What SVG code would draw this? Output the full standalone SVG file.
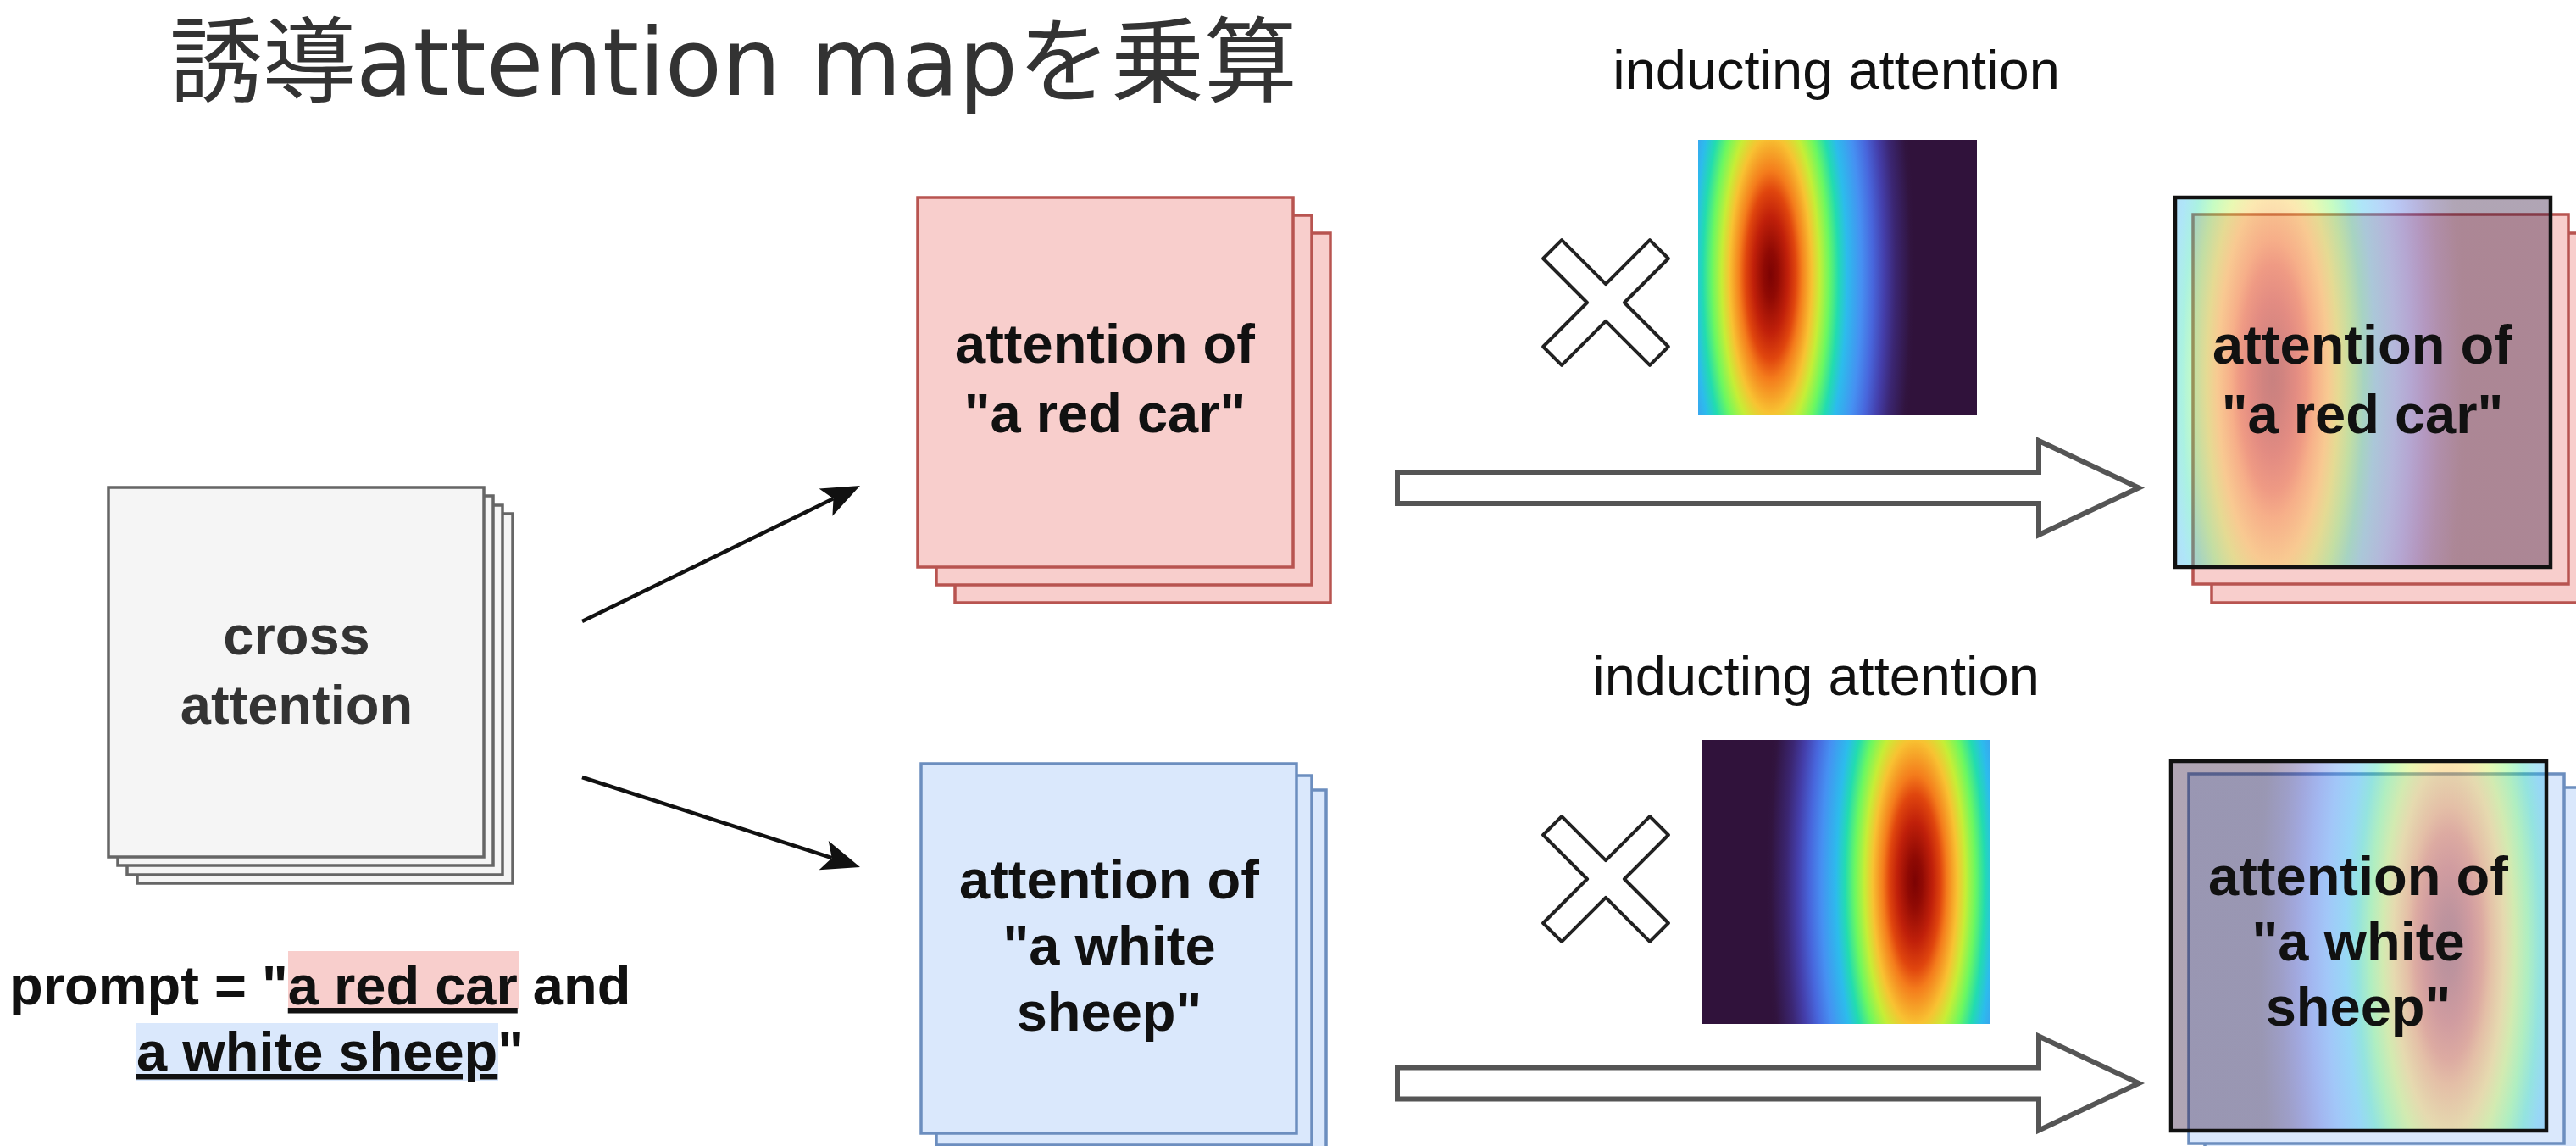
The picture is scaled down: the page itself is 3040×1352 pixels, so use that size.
<svg xmlns="http://www.w3.org/2000/svg" width="3040" height="1352" viewBox="0 0 3040 1352">
  <defs>
    <style>
      .lbl{font-family:"Liberation Sans",Arial,sans-serif;font-weight:bold;font-size:65px;text-anchor:middle;fill:#111}
      .lbl.gray{fill:#333}
      .cap{font-family:"Liberation Sans",Arial,sans-serif;font-size:65px;text-anchor:middle;fill:#111}
      .prompt{font-family:"Liberation Sans",Arial,sans-serif;font-weight:bold;font-size:65px;fill:#111}
      .sheet-gray{fill:#f5f5f5;stroke:#666;stroke-width:3.5}
      .sheet-red{fill:#f8cecc;stroke:#b85450;stroke-width:3.5}
      .sheet-blue{fill:#dae8fc;stroke:#6c8ebf;stroke-width:3.5}
      .frame{fill:none;stroke:#111;stroke-width:4.5}
      .times{fill:#fff;stroke:#222;stroke-width:4;stroke-linejoin:round}
      .flow{fill:#fff;stroke:#555;stroke-width:6;stroke-linejoin:miter}
      .link{stroke:#111;stroke-width:4.5;fill:none;marker-end:url(#head)}
    </style>
    <!-- turbo-style attention map, peak on the left -->
    <radialGradient id="heatL" cx="0.26" cy="0.49" r="0.517" gradientTransform="translate(0.26 0.49) scale(1 3.4) translate(-0.26 -0.49)">
      <stop offset="0" stop-color="#7c0303"/>
      <stop offset="0.05" stop-color="#900a04"/>
      <stop offset="0.12" stop-color="#c0200a"/>
      <stop offset="0.175" stop-color="#e0460e"/>
      <stop offset="0.215" stop-color="#f47c1c"/>
      <stop offset="0.285" stop-color="#f8c232"/>
      <stop offset="0.34" stop-color="#c6ee36"/>
      <stop offset="0.405" stop-color="#6cf860"/>
      <stop offset="0.47" stop-color="#22dcb0"/>
      <stop offset="0.53" stop-color="#2cbcec"/>
      <stop offset="0.63" stop-color="#4690f2"/>
      <stop offset="0.71" stop-color="#4866dc"/>
      <stop offset="0.79" stop-color="#443eaa"/>
      <stop offset="0.865" stop-color="#3b2672"/>
      <stop offset="0.97" stop-color="#31143f"/>
      <stop offset="1" stop-color="#30123b"/>
    </radialGradient>
    <!-- same map, peak on the right -->
    <radialGradient id="heatR" href="#heatL" cx="0.74" cy="0.5" r="0.517" gradientTransform="translate(0.74 0.5) scale(1 3.4) translate(-0.74 -0.5)"/>
    <marker id="head" markerUnits="userSpaceOnUse" markerWidth="46" markerHeight="36" refX="10" refY="18" orient="auto" overflow="visible">
      <path d="M0,0 L45,18 L0,36 L10,18 Z" fill="#111"/>
    </marker>
    <!-- hollow multiplication sign -->
    <polygon id="cross" points="-15.5,-89 15.5,-89 15.5,-15.5 89,-15.5 89,15.5 15.5,15.5 15.5,89 -15.5,89 -15.5,15.5 -89,15.5 -89,-15.5 -15.5,-15.5" transform="rotate(45)"/>
  </defs>

  <rect width="3040" height="1352" fill="#fff"/>

  <g id="title">
    <text x="200" y="112" font-family="'DejaVu Sans','Noto Sans CJK JP',sans-serif" font-size="110" fill="#333">誘導attention mapを乗算</text>
  </g>

  <g id="node-cross-attention">
    <rect class="sheet-gray" x="162" y="606" width="443" height="436"/>
    <rect class="sheet-gray" x="150" y="596" width="443" height="436"/>
    <rect class="sheet-gray" x="139" y="585" width="443" height="436"/>
    <rect class="sheet-gray" x="128" y="575" width="443" height="436"/>
    <text class="lbl gray" x="350" y="772">cross</text>
    <text class="lbl gray" x="350" y="854">attention</text>
  </g>

  <g id="node-prompt">
    <rect x="340" y="1122" width="273" height="68" fill="#f8cecc"/>
    <rect x="161" y="1207" width="427" height="68" fill="#dae8fc"/>
    <text class="prompt" x="11" y="1185">prompt = "<tspan text-decoration="underline">a red car</tspan> and</text>
    <text class="prompt" x="161" y="1263"><tspan text-decoration="underline">a white sheep</tspan>"</text>
  </g>

  <g id="node-red-car">
    <rect class="sheet-red" x="1127" y="275" width="443" height="436"/>
    <rect class="sheet-red" x="1105" y="254" width="443" height="436"/>
    <rect class="sheet-red" x="1083" y="233" width="443" height="436"/>
    <text class="lbl" x="1304" y="428">attention of</text>
    <text class="lbl" x="1304" y="510">"a red car"</text>
  </g>

  <g id="node-white-sheep">
    <rect class="sheet-blue" x="1122" y="932" width="443" height="436"/>
    <rect class="sheet-blue" x="1105" y="915" width="443" height="436"/>
    <rect class="sheet-blue" x="1087" y="901" width="443" height="436"/>
    <text class="lbl" x="1309" y="1060">attention of</text>
    <text class="lbl" x="1309" y="1138">"a white</text>
    <text class="lbl" x="1309" y="1216">sheep"</text>
  </g>

  <g id="label-inducting-top">
    <text class="cap" x="2167" y="105">inducting attention</text>
  </g>
  <g id="node-map-car">
    <rect x="2004" y="165" width="329" height="325" fill="url(#heatL)"/>
  </g>
  <g id="node-times-top">
    <use href="#cross" class="times" transform="translate(1895 357)"/>
  </g>

  <g id="label-inducting-bottom">
    <text class="cap" x="2143" y="820">inducting attention</text>
  </g>
  <g id="node-map-sheep">
    <rect x="2009" y="873" width="339" height="335" fill="url(#heatR)"/>
  </g>
  <g id="node-times-bottom">
    <use href="#cross" class="times" transform="translate(1895 1037)"/>
  </g>

  <g id="node-red-car-weighted">
    <rect class="sheet-red" x="2610" y="275" width="443" height="436"/>
    <rect class="sheet-red" x="2588" y="253" width="443" height="436"/>
    <rect x="2567" y="233" width="443" height="436" fill="url(#heatL)" opacity="0.38"/>
    <rect class="frame" x="2567" y="233" width="443" height="436"/>
    <text class="lbl" x="2788" y="429">attention of</text>
    <text class="lbl" x="2788" y="511">"a red car"</text>
  </g>

  <g id="node-white-sheep-weighted">
    <rect class="sheet-blue" x="2602" y="929" width="443" height="436"/>
    <rect class="sheet-blue" x="2583" y="913" width="443" height="436"/>
    <rect x="2562" y="898" width="443" height="436" fill="url(#heatR)" opacity="0.38"/>
    <rect class="frame" x="2562" y="898" width="443" height="436"/>
    <text class="lbl" x="2783" y="1056">attention of</text>
    <text class="lbl" x="2783" y="1133">"a white</text>
    <text class="lbl" x="2783" y="1210">sheep"</text>
  </g>

  <g id="connectors">
    <line class="link" x1="687" y1="733" x2="983.5" y2="588.3"/>
    <line class="link" x1="687" y1="917" x2="981.7" y2="1012.2"/>
    <polygon class="flow" points="1649,557 2406,557 2406,520 2524,575.5 2406,631 2406,594 1649,594"/>
    <polygon class="flow" points="1649,1259.5 2406,1259.5 2406,1222.5 2524,1278 2406,1333.5 2406,1296.5 1649,1296.5"/>
  </g>
</svg>
